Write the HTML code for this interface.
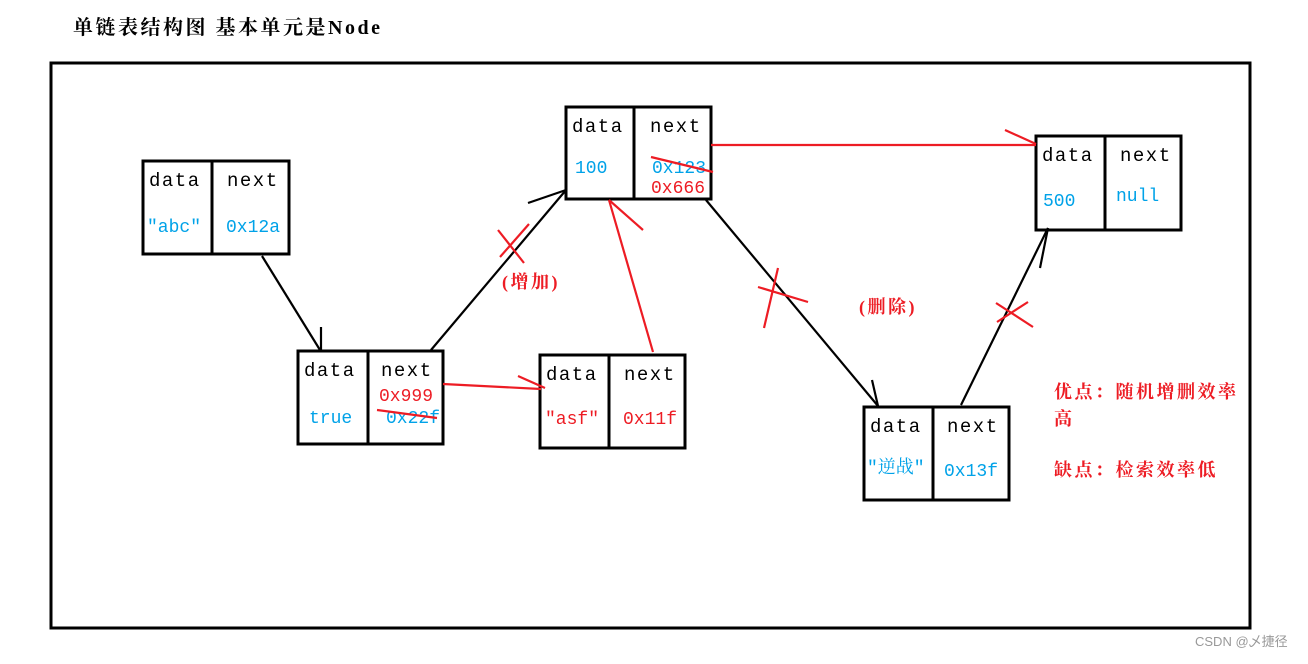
<!DOCTYPE html>
<html><head><meta charset="utf-8"><style>
body{margin:0;background:#fff;width:1308px;height:659px;overflow:hidden}
svg text{font-family:"Liberation Mono","Noto Serif CJK SC",monospace;}
.cj{font-family:'Liberation Serif','Noto Serif CJK SC',serif !important}
</style></head><body>
<svg width="1308" height="659" viewBox="0 0 1308 659" xmlns="http://www.w3.org/2000/svg">
<text x="73" y="34" font-size="20" font-weight="bold" letter-spacing="2.5" class="cj">单链表结构图 基本单元是Node</text>
<rect x="51" y="63" width="1199" height="565" fill="none" stroke="#000" stroke-width="3"/>
<g fill="none" stroke="#000" stroke-width="3">
<rect x="143" y="161" width="146" height="93"/><line x1="212" y1="161" x2="212" y2="254"/>
<rect x="298" y="351" width="145" height="93"/><line x1="368" y1="351" x2="368" y2="444"/>
<rect x="566" y="107" width="145" height="92"/><line x1="634" y1="107" x2="634" y2="199"/>
<rect x="540" y="355" width="145" height="93"/><line x1="609" y1="355" x2="609" y2="448"/>
<rect x="1036" y="136" width="145" height="94"/><line x1="1105" y1="136" x2="1105" y2="230"/>
<rect x="864" y="407" width="145" height="93"/><line x1="933" y1="407" x2="933" y2="500"/>
</g>
<g stroke="#000" stroke-width="2.2" fill="none">
<line x1="262" y1="256" x2="320" y2="350"/><line x1="321" y1="327" x2="321" y2="350"/>
<line x1="431" y1="350" x2="566" y2="190"/><line x1="528" y1="203" x2="566" y2="190"/>
<line x1="706" y1="200" x2="878" y2="406"/><line x1="872" y1="380" x2="878" y2="406"/>
<line x1="961" y1="405" x2="1048" y2="228"/><line x1="1048" y1="228" x2="1040" y2="268"/>
</g>
<g stroke="#ed1c24" stroke-width="2.2" fill="none">
<line x1="498" y1="230" x2="524" y2="263"/><line x1="500" y1="257" x2="529" y2="224"/>
<line x1="443" y1="384" x2="541" y2="389"/><line x1="518" y1="376" x2="545" y2="388"/>
<line x1="653" y1="352" x2="609" y2="200"/><line x1="609" y1="200" x2="643" y2="230"/>
<line x1="711" y1="145" x2="1036" y2="145"/><line x1="1005" y1="130" x2="1036" y2="144"/>
<line x1="758" y1="287" x2="808" y2="302"/><line x1="764" y1="328" x2="778" y2="268"/>
<line x1="996" y1="303" x2="1033" y2="327"/><line x1="997" y1="322" x2="1028" y2="302"/>
</g>
<g font-size="19" fill="#000" letter-spacing="1.5">
<text x="149" y="186">data</text><text x="227" y="186">next</text>
<text x="304" y="376">data</text><text x="381" y="376">next</text>
<text x="572" y="132">data</text><text x="650" y="132">next</text>
<text x="546" y="380">data</text><text x="624" y="380">next</text>
<text x="1042" y="161">data</text><text x="1120" y="161">next</text>
<text x="870" y="432">data</text><text x="947" y="432">next</text>
</g>
<g font-size="18" fill="#00a2e8">
<text x="147" y="232">"abc"</text><text x="226" y="232">0x12a</text>
<text x="309" y="423">true</text><text x="386" y="423">0x22f</text>
<text x="575" y="173">100</text><text x="652" y="173">0x123</text>
<text x="1043" y="206">500</text><text x="1116" y="201">null</text>
<text x="867" y="473">"逆战"</text><text x="944" y="476">0x13f</text>
</g>
<g font-size="18" fill="#ed1c24">
<text x="379" y="401">0x999</text><text x="651" y="193">0x666</text>
<text x="545" y="424">"asf"</text><text x="623" y="424">0x11f</text>
</g>
<g stroke="#ed1c24" stroke-width="2.2">
<line x1="651" y1="157" x2="713" y2="172"/><line x1="377" y1="410" x2="437" y2="418"/>
</g>
<g font-size="18" fill="#ed1c24" font-weight="bold" letter-spacing="2.5">
<text x="502" y="288" class="cj">(增加)</text>
<text x="859" y="313" class="cj">(删除)</text>
<text x="1054" y="398" class="cj">优点：随机增删效率</text>
<text x="1054" y="425" class="cj">高</text>
<text x="1054" y="476" class="cj">缺点：检索效率低</text>
</g>
<text x="1195" y="646" font-size="13" fill="#999" style="font-family:'Liberation Sans','Noto Sans CJK SC',sans-serif">CSDN @乄捷径</text>
</svg>
</body></html>
